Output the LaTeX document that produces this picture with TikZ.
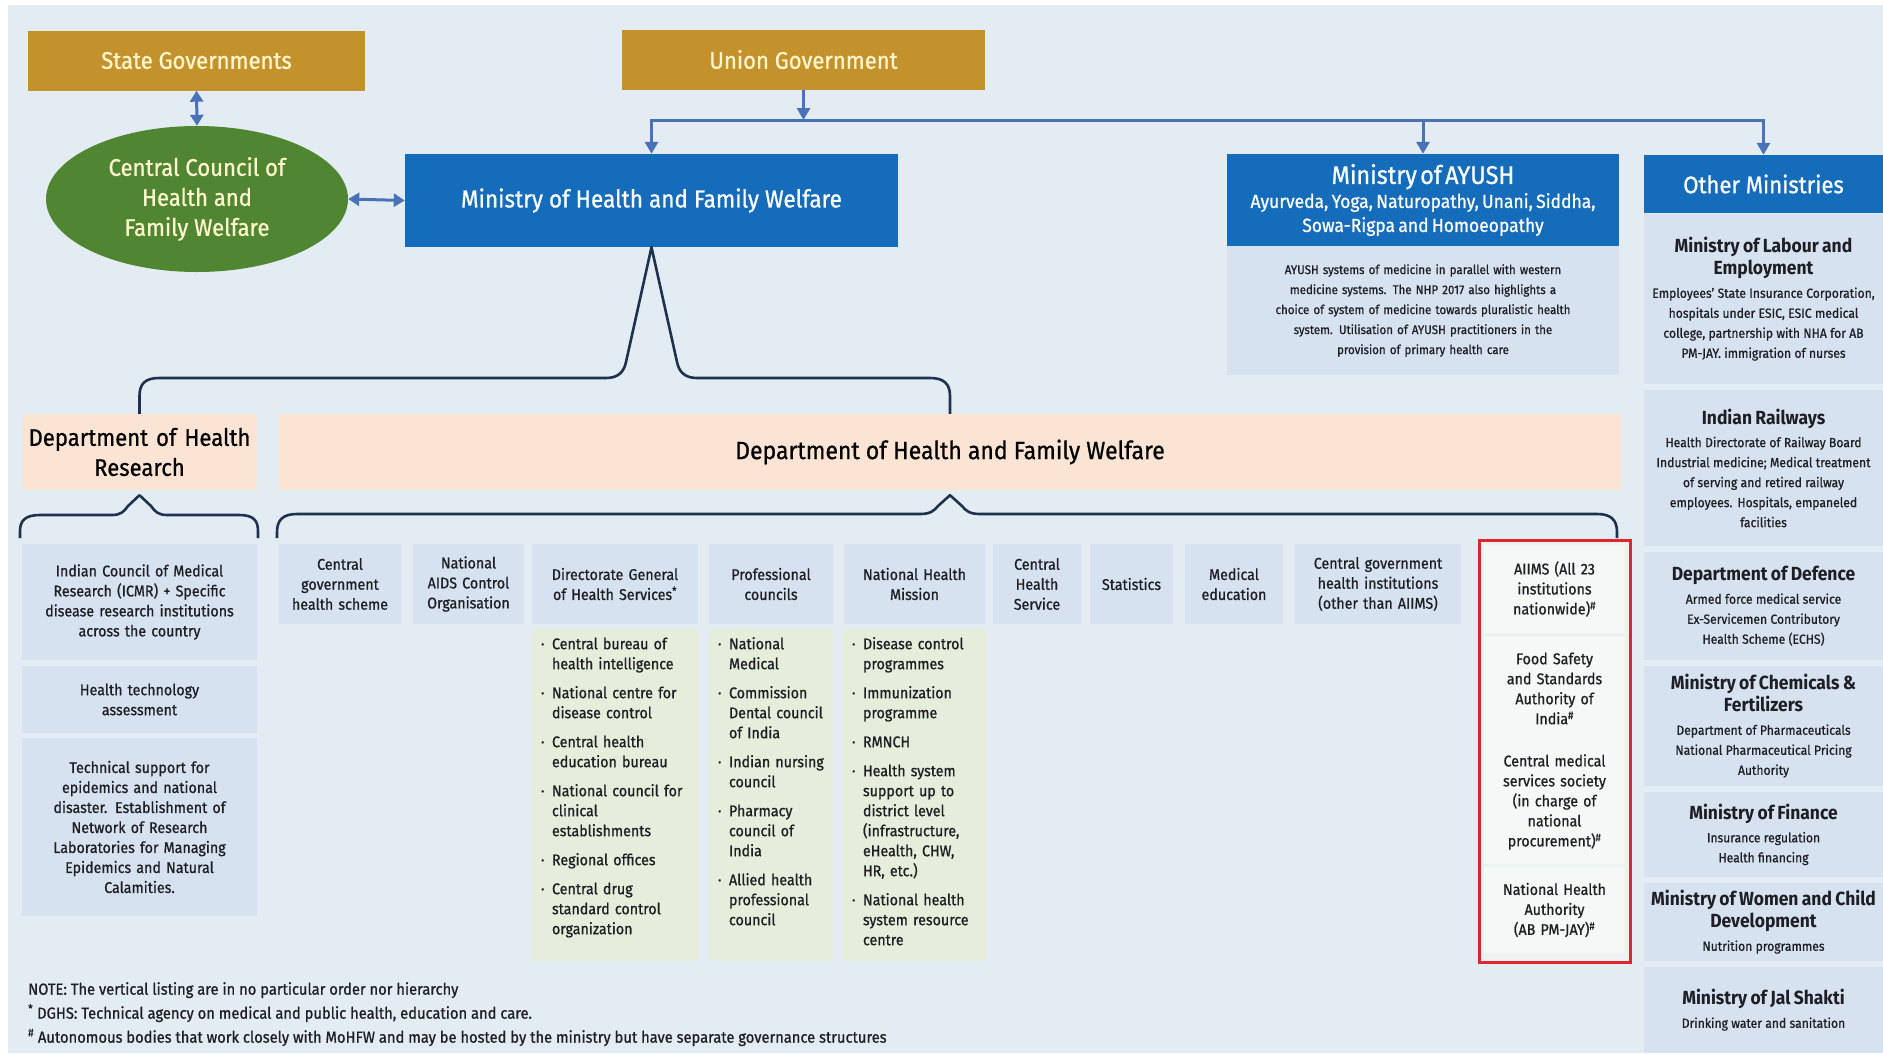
\documentclass[tikz,border=0pt]{standalone}
\usepackage{fontspec}
\setmainfont{Fira Sans}[FakeStretch=0.92, UprightFeatures={FakeBold=0.8}]
\usetikzlibrary{shapes.geometric,arrows.meta}

\definecolor{pagebg}{RGB}{226,236,242}
\definecolor{cellblue}{RGB}{214,226,239}
\definecolor{listgreen}{RGB}{229,238,218}
\definecolor{peach}{RGB}{252,228,212}
\definecolor{gold}{RGB}{196,146,44}
\definecolor{cream}{RGB}{255,246,206}
\definecolor{councilgreen}{RGB}{80,134,50}
\definecolor{minblue}{RGB}{20,108,186}
\definecolor{arrowblue}{RGB}{74,114,184}
\definecolor{bracenavy}{RGB}{30,50,80}
\definecolor{redline}{RGB}{226,36,44}
\definecolor{redbg}{RGB}{236,242,242}
\definecolor{redfill}{RGB}{245,248,247}
\definecolor{ink}{RGB}{30,30,36}

\newcommand{\fnt}[2]{\fontsize{#1}{#2}\selectfont}
\newcommand{\itm}[1]{\par\hangindent=11pt\hangafter=1\noindent\makebox[11pt][l]{·}#1\par\vspace{9pt}}
\newcommand{\omtitle}{\bfseries\fnt{19}{22}}
\newcommand{\ombody}{\fnt{13.2}{20}}

\begin{document}
\begin{tikzpicture}[x=1pt, y=-1pt,
  govbox/.style={fill=gold, text=cream, font=\fnt{24}{30}, inner sep=0, minimum height=60, align=center},
  minbox/.style={fill=minblue, text=white, inner sep=0, align=center},
  dept/.style={fill=peach, text=black, font=\fnt{25}{30}, inner sep=0, align=center, minimum height=76},
  hcell/.style={fill=cellblue, text=ink, font=\fnt{15.5}{20}, inner sep=0, align=center, minimum height=80},
  listbox/.style={fill=listgreen, text=ink, font=\fnt{15.5}{20}, inner xsep=9, inner ysep=0, align=left, anchor=north, text height=0, text depth=332},
  omcell/.style={fill=cellblue, text=ink, inner sep=0, align=center, minimum width=239, text width=234},
  redcell/.style={fill=redfill, text=ink, font=\fnt{15.5}{20}, inner sep=0, align=center, minimum width=141, text width=138},
  link/.style={draw=arrowblue, line width=3pt, -{Triangle[length=12pt,width=13pt]}},
  dlink/.style={link, {Triangle[length=11pt,width=13pt]}-{Triangle[length=11pt,width=13pt]}},
  bracepath/.style={draw=bracenavy, line width=2.6pt, line join=round}
]
\useasboundingbox (0,0) rectangle (1883,1053);
\fill[white] (0,0) rectangle (1883,1053);
\fill[pagebg] (8,5) rectangle (1883,1053);

% top level
\node[govbox, minimum width=337] (state) at (196.5,60.5) {State Governments};
\node[govbox, minimum width=363] (union) at (803.5,59.5) {Union Government};
\node[ellipse, fill=councilgreen, text=cream, font=\fnt{24}{30}, minimum width=302, minimum height=146, inner sep=0, align=center] (council) at (197,199) {Central Council of\\Health and\\Family Welfare};
\node[minbox, minimum width=493, minimum height=93, font=\fnt{24.5}{30}] (mohfw) at (651.5,200.5) {Ministry of Health and Family Welfare};
\node[minbox, minimum width=392, minimum height=92, text width=388] (ayush) at (1423,200) {{\fnt{25.5}{30}Ministry of AYUSH\par}{\fnt{19}{24}Ayurveda, Yoga, Naturopathy, Unani, Siddha,\\Sowa-Rigpa and Homoeopathy\par}};
\node[hcell, minimum width=392, minimum height=129, text width=386, font=\fnt{12.5}{20}] (ayushtxt) at (1423,310.5) {AYUSH systems of medicine in parallel with western\\medicine systems. The NHP 2017 also highlights a\\choice of system of medicine towards pluralistic health\\system. Utilisation of AYUSH practitioners in the\\provision of primary health care};
\node[minbox, minimum width=239, minimum height=58, font=\fnt{24}{30}] (other) at (1763.5,184) {Other Ministries};

% arrows
\coordinate (bus) at (803.5,120);
\draw[link] (union.south) -- (bus);
\draw[link] (bus) -| (mohfw.north);
\draw[link] (bus) -| (ayush.north);
\draw[link] (bus) -| (other.north);
\draw[dlink] (state.south) -- (council.north);
\draw[dlink] (council.east) -- (mohfw.west);

% departments
\node[dept, minimum width=235, text width=232, font=\fnt{24}{30}] (dhr) at (139.5,452) {Department of Health\\Research};
\node[dept, minimum width=1342] (dohfw) at (950,452) {Department of Health and Family Welfare};

% braces
\draw[bracepath] (dhr.north) -- (139.5,396) .. controls (139.5,384) and (145,378) .. (159,378) -- (606,378) .. controls (618,378) and (624,372) .. (626,362) -- (mohfw.south) -- (677,362) .. controls (679,372) and (685,378) .. (697,378) -- (930,378) .. controls (944,378) and (950,384) .. (950,396) -- (dohfw.north);
\draw[bracepath] (20,538) -- (20,531) .. controls (20,520) and (26,515) .. (40,515) -- (112,515) .. controls (120,515) and (124,512) .. (128,506) -- ([yshift=-5pt]dhr.south) -- (151,506) .. controls (155,512) and (159,515) .. (167,515) -- (239,515) .. controls (253,515) and (258,520) .. (258,531) -- (258,538);
\draw[bracepath] (277,538) -- (277,532) .. controls (277,520) and (283,514) .. (297,514) -- (920,514) .. controls (930,514) and (934,511) .. (938,506) -- ([yshift=-5pt]dohfw.south) -- (962,506) .. controls (966,511) and (970,514) .. (980,514) -- (1597,514) .. controls (1611,514) and (1617,520) .. (1617,532) -- (1617,538);

% health research
\node[hcell, minimum width=235, minimum height=116, text width=230] (icmr) at (139.5,602) {Indian Council of Medical\\Research (ICMR) + Specific\\disease research institutions\\across the country};
\node[hcell, minimum width=235, minimum height=67, text width=230] (hta) at (139.5,699.5) {Health technology\\assessment};
\node[hcell, minimum width=235, minimum height=178, text width=230] (techsup) at (139.5,827) {Technical support for\\epidemics and national\\disaster. Establishment of\\Network of Research\\Laboratories for Managing\\Epidemics and Natural\\Calamities.};

% health and family welfare
\node[hcell, minimum width=122, text width=120] (cghs) at (340,584) {Central\\government\\health scheme};
\node[hcell, minimum width=111, text width=109] (naco) at (468.5,584) {National\\AIDS Control\\Organisation};
\node[hcell, minimum width=166, text width=164] (dghs) at (615,584) {Directorate General\\of Health Services\textsuperscript{*}};
\node[hcell, minimum width=124, text width=122] (profc) at (771,584) {Professional\\councils};
\node[hcell, minimum width=141, text width=139] (nhm) at (914.5,584) {National Health\\Mission};
\node[hcell, minimum width=88, text width=86] (chs) at (1037,584) {Central\\Health\\Service};
\node[hcell, minimum width=83, text width=81] (stats) at (1131.5,584) {Statistics};
\node[hcell, minimum width=98, text width=96] (meded) at (1234,584) {Medical\\education};
\node[hcell, minimum width=166, text width=164] (cghi) at (1378,584) {Central government\\health institutions\\(other than AIIMS)};

\node[listbox, minimum width=166, text width=148] (dghslist) at (615,629) {\itm{Central bureau of\newline health intelligence}\itm{National centre for\newline disease control}\itm{Central health\newline education bureau}\itm{National council for\newline clinical\newline establishments}\itm{Regional offices}\itm{Central drug\newline standard control\newline organization}};
\node[listbox, minimum width=124, text width=106] (profclist) at (771,629) {\itm{National\newline Medical}\itm{Commission\newline Dental council\newline of India}\itm{Indian nursing\newline council}\itm{Pharmacy\newline council of\newline India}\itm{Allied health\newline professional\newline council}};
\node[listbox, minimum width=141, text width=125] (nhmlist) at (914.5,629) {\itm{Disease control\newline programmes}\itm{Immunization\newline programme}\itm{RMNCH}\itm{Health system\newline support up to\newline district level\newline (infrastructure,\newline eHealth, CHW,\newline HR, etc.)}\itm{National health\newline system resource\newline centre}};

% autonomous bodies
\draw[draw=redline, fill=redbg, line width=3pt] (1479,540) rectangle (1630,962);
\node[redcell, minimum height=88] (aiims) at (1554.5,589) {AIIMS (All 23\\institutions\\nationwide)\textsuperscript{\#}};
\node[redcell, minimum height=103] (fssai) at (1554.5,688.5) {Food Safety\\and Standards\\Authority of\\India\textsuperscript{\#}};
\node[redcell, minimum height=124] (cmss) at (1554.5,802) {Central medical\\services society\\(in charge of\\national\\procurement)\textsuperscript{\#}};
\node[redcell, minimum height=86] (nha) at (1554.5,910) {National Health\\Authority\\(AB PM-JAY)\textsuperscript{\#}};

% other ministries
\node[omcell, minimum height=170] (labour) at (1763.5,299) {{\omtitle Ministry of Labour and\\Employment\par}\vspace{3pt}{\ombody Employees' State Insurance Corporation,\\hospitals under ESIC, ESIC medical\\college, partnership with NHA for AB\\PM-JAY. immigration of nurses\par}};
\node[omcell, minimum height=156] (railways) at (1763.5,468) {{\omtitle Indian Railways\par}\vspace{3pt}{\ombody Health Directorate of Railway Board\\Industrial medicine; Medical treatment\\of serving and retired railway\\employees. Hospitals, empaneled\\facilities\par}};
\node[omcell, minimum height=108] (defence) at (1763.5,606) {{\omtitle Department of Defence\par}\vspace{3pt}{\ombody Armed force medical service\\Ex-Servicemen Contributory\\Health Scheme (ECHS)\par}};
\node[omcell, minimum height=120] (chemicals) at (1763.5,726) {{\omtitle Ministry of Chemicals \&\\Fertilizers\par}\vspace{3pt}{\ombody Department of Pharmaceuticals\\National Pharmaceutical Pricing\\Authority\par}};
\node[omcell, minimum height=85] (finance) at (1763.5,834.5) {{\omtitle Ministry of Finance\par}\vspace{3pt}{\ombody Insurance regulation\\Health financing\par}};
\node[omcell, minimum height=78] (women) at (1763.5,922) {{\omtitle Ministry of Women and Child\\Development\par}\vspace{3pt}{\ombody Nutrition programmes\par}};
\node[omcell, minimum height=86] (jal) at (1763.5,1010) {{\omtitle Ministry of Jal Shakti\par}\vspace{3pt}{\ombody Drinking water and sanitation\par}};

% notes
\node[anchor=north west, align=left, font=\fnt{16}{24}, text=ink, inner sep=0] (notes) at (28,982) {NOTE: The vertical listing are in no particular order nor hierarchy\\\textsuperscript{*} DGHS: Technical agency on medical and public health, education and care.\\\textsuperscript{\#} Autonomous bodies that work closely with MoHFW and may be hosted by the ministry but have separate governance structures};
\end{tikzpicture}
\end{document}
